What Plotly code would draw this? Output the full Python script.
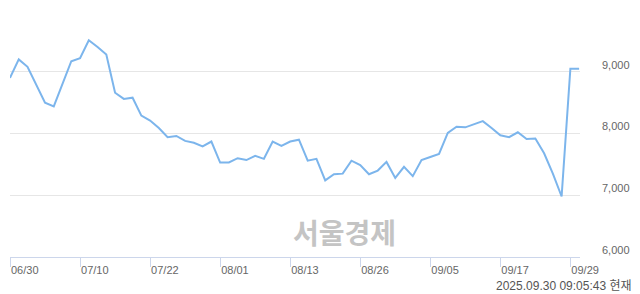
import pandas as pd
import plotly.graph_objects as go

# trading days (KRX) 2025-06-30 .. 2025-09-30, 8/15 holiday excluded
days = [d for d in pd.bdate_range("2025-06-30", "2025-09-30") if d.strftime("%m/%d") != "08/15"]
dates = [d.strftime("%m/%d") for d in days]

prices = [
    8900, 9200, 9080, 8790, 8500, 8440, 8790, 9170, 9220, 9510,
    9400, 9280, 8660, 8560, 8580, 8290, 8210, 8090, 7940, 7960,
    7880, 7850, 7790, 7870, 7530, 7530, 7600, 7570, 7640, 7590,
    7870, 7800, 7870, 7900, 7560, 7590, 7240, 7340, 7350, 7560,
    7490, 7340, 7400, 7540, 7280, 7460, 7310, 7570, 7620, 7670,
    8010, 8110, 8100, 8150, 8200, 8090, 7970, 7940, 8020, 7910,
    7920, 7680, 7350, 6980, 9050, 9050,
]

tick_labels = ["06/30", "07/10", "07/22", "08/01", "08/13", "08/26", "09/05", "09/17", "09/29"]
y_ticks = [6000, 7000, 8000, 9000, 10000]
y_tick_text = ["6,000", "7,000", "8,000", "9,000", ""]

watermark = "서울경제"
timestamp = "2025.09.30 09:05:43 현재"

fig = go.Figure()
fig.add_trace(go.Scatter(
    x=list(range(len(dates))), y=prices, mode="lines",
    line=dict(color="#7cb5ec", width=2), hoverinfo="skip",
))

tick_idx = [dates.index(t) for t in tick_labels]

font_main = "Liberation Sans, Arial, Noto Sans CJK KR, sans-serif"

fig.update_layout(
    width=640, height=294,
    margin=dict(l=10, r=60, t=10, b=37),
    paper_bgcolor="white", plot_bgcolor="white",
    showlegend=False,
    font=dict(family=font_main, size=11, color="#666666"),
    xaxis=dict(
        range=[0, 65.1], tickmode="array", tickvals=tick_idx, ticktext=tick_labels,
        showgrid=False, zeroline=False, showline=True, linecolor="#ccd6eb", linewidth=1,
        ticks="outside", ticklen=9, tickcolor="#ccd6eb", tickwidth=1,
        ticklabelposition="outside right", ticklabelstandoff=3,
        tickfont=dict(size=11, color="#666666"),
    ),
    yaxis=dict(
        range=[6000, 10000], side="right", tickmode="array",
        tickvals=y_ticks, ticktext=y_tick_text,
        showgrid=True, gridcolor="#e6e6e6", gridwidth=1, zeroline=False,
        showline=False, ticks="", ticklabelstandoff=21, ticklabelshift=-7,
        tickfont=dict(size=11, color="#666666"),
    ),
    annotations=[
        dict(text="<b>" + watermark + "</b>", xref="paper", yref="paper",
             x=0.586, y=0.10, xanchor="center", yanchor="middle", showarrow=False,
             font=dict(family="Noto Sans CJK KR", size=28, color="#c4c4c4")),
        dict(text=timestamp, xref="paper", yref="paper",
             x=1.095, y=-0.117, xanchor="right", yanchor="middle", showarrow=False,
             font=dict(family=font_main, size=12, color="#555555")),
    ],
)

fig.write_html("out.html")
